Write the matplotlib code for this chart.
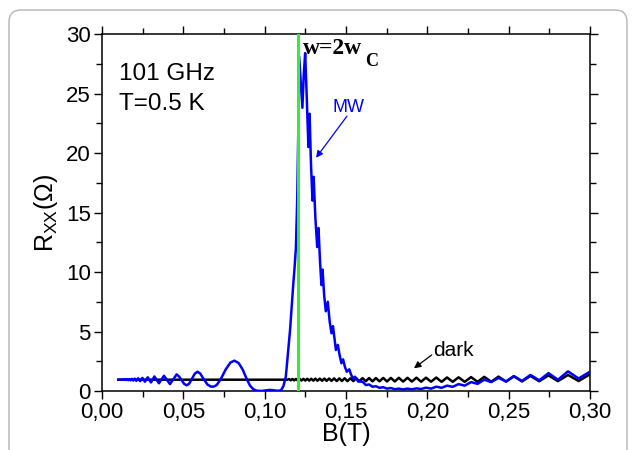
import numpy as np
import matplotlib
matplotlib.use('Agg')
import matplotlib.pyplot as plt
from matplotlib.patches import FancyBboxPatch

plt.rcParams['font.family'] = ['Liberation Sans', 'DejaVu Sans']
plt.rcParams['mathtext.fontset'] = 'custom'
plt.rcParams['mathtext.rm'] = 'Liberation Sans'

# ---- 数据 ----
# MW 曲线 B(T), Rxx(Ω)
mw_B = [0.0100, 0.0146, 0.0151, 0.0157, 0.0163, 0.0169, 0.0176, 0.0184, 0.0192,
        0.0201, 0.0211, 0.0222, 0.0235, 0.0248, 0.0264, 0.0281, 0.0301, 0.0322,
        0.0350, 0.0381, 0.0418, 0.0459, 0.0475, 0.0490, 0.0505, 0.0520, 0.0535,
        0.0552, 0.0570, 0.0587, 0.0605, 0.0625, 0.0648, 0.0668, 0.0685, 0.0705,
        0.0730, 0.0760, 0.0790, 0.0814, 0.0840, 0.0865, 0.0890, 0.0910, 0.0930,
        0.0950, 0.0980, 0.1010, 0.1030, 0.1050, 0.1080, 0.1100, 0.1115, 0.1130,
        0.1145, 0.1156, 0.1168, 0.1176, 0.1183, 0.1192, 0.1200, 0.1207, 0.1212,
        0.1222, 0.1232, 0.1240, 0.1249, 0.1258, 0.1269, 0.1276, 0.1285, 0.1294,
        0.1301, 0.1312, 0.1323, 0.1331, 0.1340, 0.1349, 0.1356, 0.1366, 0.1376,
        0.1388, 0.1400, 0.1411, 0.1420, 0.1430, 0.1438, 0.1450, 0.1461, 0.1472,
        0.1482, 0.1494, 0.1505, 0.1520, 0.1532, 0.1543, 0.1555, 0.1575, 0.1602,
        0.1622, 0.1642, 0.1663, 0.1684, 0.1706, 0.1729, 0.1752, 0.1776, 0.1800,
        0.1825, 0.1850, 0.1878, 0.1905, 0.1933, 0.1962, 0.1992, 0.2023, 0.2055,
        0.2088, 0.2121, 0.2156, 0.2192, 0.2230, 0.2269, 0.2309, 0.2350, 0.2393,
        0.2438, 0.2484, 0.2532, 0.2582, 0.2634, 0.2688, 0.2745, 0.2803, 0.2865,
        0.2930, 0.2997, 0.3000]
mw_R = [0.95, 0.98, 0.92, 0.99, 0.91, 1.00, 0.90, 1.02, 0.88,
        1.04, 0.86, 1.07, 0.83, 1.10, 0.78, 1.15, 0.72, 1.22,
        0.65, 1.28, 0.58, 1.40, 1.20, 0.90, 0.60, 0.48, 0.60,
        1.00, 1.45, 1.62, 1.45, 1.00, 0.55, 0.38, 0.36, 0.50,
        1.00, 1.80, 2.40, 2.55, 2.35, 1.80, 1.00, 0.45, 0.15,
        0.03, 0.00, 0.05, 0.09, 0.07, 0.02, 0.05, 0.40, 1.20,
        3.50, 5.10, 7.50, 9.00, 10.2, 12.0, 16.0, 22.0, 28.1,
        26.0, 23.8, 26.5, 28.4, 25.0, 20.5, 23.3, 19.0, 16.0,
        18.0, 14.5, 12.1, 13.7, 11.0, 8.90, 10.2, 8.00, 6.70,
        7.50, 5.80, 4.85, 5.45, 4.30, 3.45, 3.87, 3.00, 2.33,
        2.66, 2.00, 1.62, 1.82, 1.35, 1.07, 1.20, 0.80, 0.78,
        0.50, 0.55, 0.36, 0.40, 0.27, 0.32, 0.20, 0.25, 0.15,
        0.20, 0.13, 0.20, 0.14, 0.22, 0.17, 0.28, 0.20, 0.36,
        0.27, 0.45, 0.35, 0.58, 0.45, 0.75, 0.60, 0.95, 0.75,
        1.10, 0.80, 1.25, 0.85, 1.35, 0.90, 1.50, 0.95, 1.65,
        1.05, 1.60, 1.58]

# dark 曲线
dark_B = [0.0100, 0.1140, 0.1150, 0.1160, 0.1171, 0.1181, 0.1192, 0.1203, 0.1215,
          0.1226, 0.1238, 0.1250, 0.1262, 0.1274, 0.1286, 0.1299, 0.1312, 0.1325,
          0.1339, 0.1353, 0.1367, 0.1381, 0.1396, 0.1411, 0.1427, 0.1443, 0.1459,
          0.1475, 0.1492, 0.1509, 0.1527, 0.1545, 0.1563, 0.1582, 0.1602, 0.1622,
          0.1642, 0.1663, 0.1684, 0.1706, 0.1729, 0.1752, 0.1776, 0.1800, 0.1825,
          0.1851, 0.1878, 0.1905, 0.1933, 0.1962, 0.1992, 0.2023, 0.2055, 0.2088,
          0.2121, 0.2156, 0.2192, 0.2230, 0.2269, 0.2309, 0.2350, 0.2393, 0.2438,
          0.2484, 0.2532, 0.2582, 0.2634, 0.2688, 0.2745, 0.2803, 0.2865, 0.2930,
          0.2997, 0.3000]
dark_R = [0.95, 0.95, 1.00, 0.90, 1.01, 0.89, 1.01, 0.89, 1.02,
          0.88, 1.02, 0.88, 1.03, 0.87, 1.03, 0.87, 1.04, 0.86,
          1.04, 0.86, 1.05, 0.85, 1.05, 0.85, 1.06, 0.84, 1.06,
          0.84, 1.07, 0.83, 1.07, 0.83, 1.08, 0.82, 1.08, 0.82,
          1.09, 0.81, 1.09, 0.81, 1.10, 0.80, 1.10, 0.80, 1.11,
          0.79, 1.11, 0.79, 1.12, 0.78, 1.12, 0.78, 1.13, 0.77,
          1.14, 0.77, 1.15, 0.77, 1.17, 0.77, 1.19, 0.78, 1.21,
          0.79, 1.24, 0.80, 1.27, 0.82, 1.31, 0.83, 1.35, 0.84,
          1.38, 1.38]

B_2wc = 0.1207  # w = 2wc 位置

x_ticks = [0.00, 0.05, 0.10, 0.15, 0.20, 0.25, 0.30]
x_tick_labels = ['0,00', '0,05', '0,10', '0,15', '0,20', '0,25', '0,30']
y_ticks = [0, 5, 10, 15, 20, 25, 30]

# ---- 绘图 ----
fig = plt.figure(figsize=(6.32, 4.5), dpi=100)
ax = fig.add_axes([0.1614, 0.1311, 0.7721, 0.7933])

ax.plot(dark_B, dark_R, color='black', linewidth=1.8, zorder=2)
ax.plot(mw_B, mw_R, color='#0000ff', linewidth=1.8, zorder=3)
ax.axvline(B_2wc, color='#33ee33', linewidth=2.2, zorder=4)

ax.set_xlim(0, 0.30)
ax.set_ylim(0, 30)
ax.set_xticks(x_ticks)
ax.set_xticklabels(x_tick_labels)
ax.set_xticks(np.arange(0.025, 0.30, 0.05), minor=True)
ax.set_yticks(y_ticks)
ax.set_yticks(np.arange(2.5, 30, 5), minor=True)

ax.tick_params(which='both', direction='out', top=True, right=True,
               labelsize=16, width=1.0, pad=2)
ax.tick_params(which='major', length=6)
ax.tick_params(which='minor', length=4)
for s in ax.spines.values():
    s.set_linewidth(1.1)

ax.set_xlabel('B(T)', fontsize=18, labelpad=-1)
ax.set_ylabel('R$_{\\mathrm{XX}}$(Ω)', fontsize=18, labelpad=4)

# 注释文字
ax.text(0.0105, 26.1, '101 GHz', fontsize=17.5)
ax.text(0.0105, 23.6, 'T=0.5 K', fontsize=17.5)
ax.text(0.1236, 28.3, 'w=2w', fontsize=17, fontweight='bold',
        family=['Liberation Serif'])
ax.text(0.1618, 27.3, 'C', fontsize=13, fontweight='bold',
        family=['Liberation Serif'])

ax.text(0.142, 23.45, 'MW', fontsize=13, color='#0000ff')
ax.annotate('', xy=(0.1316, 19.6), xytext=(0.1506, 23.1),
            arrowprops=dict(arrowstyle='-|>', color='#0000ff', lw=0.9,
                            mutation_scale=10, shrinkA=0, shrinkB=0))
ax.text(0.2035, 2.94, 'dark', fontsize=15)
ax.annotate('', xy=(0.1918, 1.91), xytext=(0.2027, 3.03),
            arrowprops=dict(arrowstyle='-|>', color='black', lw=0.9,
                            mutation_scale=10, shrinkA=0, shrinkB=0))

# 外框（圆角）
frame = FancyBboxPatch((0.09, -0.3), 6.18, 4.70, boxstyle='round,pad=0,rounding_size=0.12',
                       transform=fig.dpi_scale_trans, facecolor='none',
                       edgecolor='#b4b4b4', linewidth=1.0)
fig.patches.append(frame)

fig.savefig('out.png', dpi=100)
